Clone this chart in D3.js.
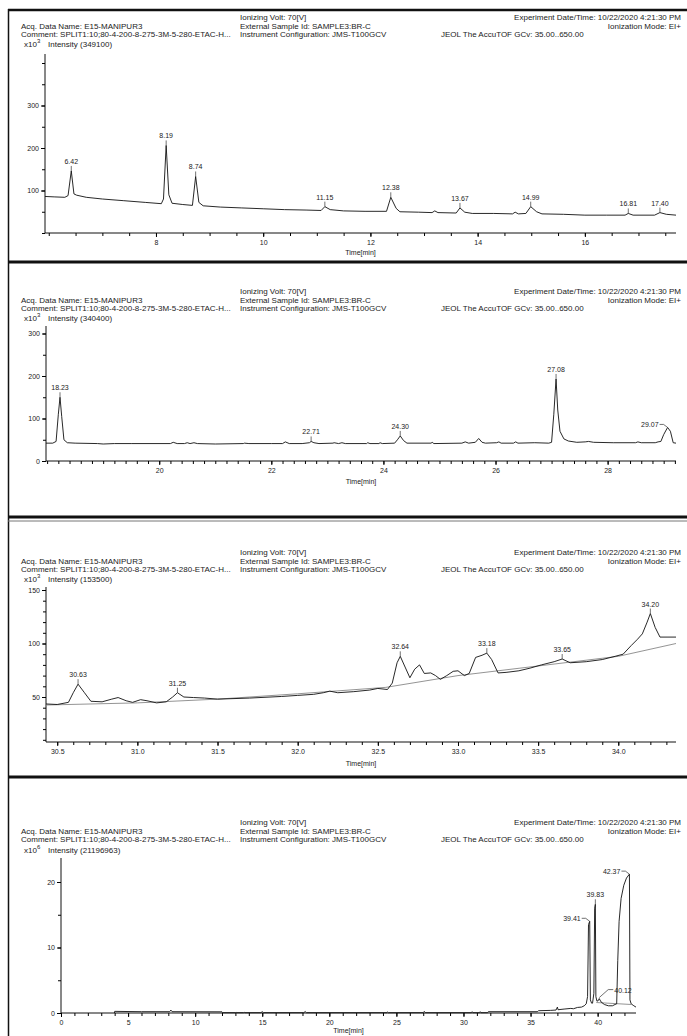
<!DOCTYPE html>
<html>
<head>
<meta charset="utf-8">
<script src="https://cdn.jsdelivr.net/npm/d3@7/dist/d3.min.js"></script>
<style>
  body { margin: 0; background: #fff; }
  svg { display: block; font-family: "Liberation Sans", Arial, sans-serif; }
  .tick text { fill: #222; }
</style>
</head>
<body>
<div id="chart"></div>
<script>
// header texts, identical on the four screenshots
const acqName = "Acq. Data Name: E15-MANIPUR3";
const comment = "Comment: SPLIT1:10;80-4-200-8-275-3M-5-280-ETAC-H...";
const ionVolt = "Ionizing Volt: 70[V]";
const sampleId = "External Sample Id: SAMPLE3:BR-C";
const instrument = "Instrument Configuration: JMS-T100GCV";
const expDate = "Experiment Date/Time: 10/22/2020 4:21:30 PM";
const ionMode = "Ionization Mode: EI+";
const jeol = "JEOL The AccuTOF GCv: 35.00..650.00";
const xTitle = "Time[min]";

// panel 1 : 6 - 17.7 min, intensity x10^3
const p1Intensity = "349100";
const p1Trace = [[5.93,86],[6.10,85],[6.30,84],[6.36,88],[6.42,146],[6.47,92],[6.52,89],[6.70,84],[7.00,80],[7.40,76],[7.80,72],[8.10,69],[8.14,80],[8.19,206],[8.24,90],[8.30,70],[8.50,67],[8.68,65],[8.74,133],[8.80,72],[8.88,64],[9.20,61],[9.60,59],[10.00,57],[10.40,55],[10.80,54],[11.08,53],[11.15,62],[11.25,55],[11.50,52],[11.90,51],[12.30,51],[12.38,84],[12.48,58],[12.55,50],[12.90,49],[13.15,48],[13.20,52],[13.26,48],[13.60,47],[13.67,59],[13.76,49],[13.90,46],[14.30,46],[14.65,45],[14.70,49],[14.76,45],[14.90,46],[14.99,62],[15.10,50],[15.20,45],[15.60,44],[16.00,42],[16.40,42],[16.75,42],[16.81,46],[16.90,42],[17.30,42],[17.40,48],[17.52,44],[17.70,42]];
const p1Peaks = [6.42, 8.19, 8.74, 11.15, 12.38, 13.67, 14.99, 16.81, 17.40];
const p1XTicks = [8, 10, 12, 14, 16];
const p1YTicks = [100, 200, 300];

// panel 2 : 18 - 29.2 min, intensity x10^3
const p2Intensity = "340400";
const p2Trace = [[17.98,42],[18.10,42],[18.16,46],[18.20,110],[18.23,150],[18.26,105],[18.30,50],[18.36,43],[18.50,42],[18.90,41],[19.00,40],[19.20,41],[19.50,41],[19.80,41],[20.20,41],[20.25,44],[20.32,41],[20.45,41],[20.50,43],[20.55,41],[20.62,43],[20.68,41],[21.00,40],[21.50,41],[21.52,42],[21.60,41],[22.00,41],[22.20,41],[22.25,45],[22.32,41],[22.55,41],[22.68,43],[22.71,46],[22.76,43],[22.85,41],[23.10,42],[23.12,43],[23.20,41],[23.26,43],[23.32,41],[23.70,41],[23.72,43],[23.76,41],[23.92,41],[23.94,43],[23.98,41],[24.20,42],[24.25,50],[24.30,59],[24.36,48],[24.42,42],[24.85,42],[24.87,44],[24.90,41],[25.40,42],[25.46,45],[25.52,42],[25.64,44],[25.70,53],[25.76,44],[25.82,42],[26.02,43],[26.06,45],[26.10,42],[26.32,42],[26.36,45],[26.40,42],[26.70,43],[26.95,42],[27.00,44],[27.04,110],[27.08,193],[27.11,120],[27.15,70],[27.22,52],[27.30,47],[27.45,44],[27.60,45],[27.66,46],[27.75,44],[28.10,43],[28.50,43],[28.54,45],[28.60,43],[28.85,43],[28.90,45],[28.95,46],[29.00,62],[29.07,79],[29.12,70],[29.17,43],[29.22,42]];
const p2Peaks = [18.23, 22.71, 24.30, 27.08, 29.07];
const p2XTicks = [20, 22, 24, 26, 28];
const p2YTicks = [0, 100, 200, 300];

// panel 3 : 30.4 - 34.3 min, intensity x10^3
const p3Intensity = "153500";
const p3Trace = [[30.43,43.5],[30.50,43],[30.57,45],[30.60,54],[30.63,62],[30.67,54],[30.71,46],[30.78,45.5],[30.84,48],[30.88,49.5],[30.93,46.5],[30.97,45],[31.02,47.5],[31.06,46.5],[31.12,44.5],[31.18,45.5],[31.22,50],[31.25,54],[31.29,50],[31.35,49.5],[31.42,49],[31.50,48],[31.70,49],[31.90,50.5],[32.00,51.5],[32.10,52.5],[32.16,54],[32.20,55.5],[32.25,54],[32.35,55],[32.45,56.5],[32.50,58],[32.56,57],[32.59,63],[32.62,82],[32.64,88],[32.67,78],[32.70,68],[32.73,76],[32.76,80],[32.79,72],[32.83,72.5],[32.86,70],[32.89,66.5],[32.93,70],[32.97,74],[33.00,74.5],[33.04,70],[33.07,72],[33.11,87],[33.15,89],[33.18,91],[33.21,85],[33.25,72.5],[33.30,73],[33.38,74.5],[33.45,77],[33.52,80],[33.60,83],[33.65,85.5],[33.70,82],[33.80,83],[33.90,85],[33.98,88],[34.03,90],[34.08,98],[34.12,104],[34.15,109],[34.18,120],[34.20,128],[34.23,115],[34.26,106],[34.31,106],[34.36,106]];
const p3Base = [[30.43,42.5],[31.0,44.5],[31.5,48],[32.0,53],[32.55,59],[33.0,70],[33.5,79],[34.0,88],[34.36,100]];
const p3Peaks = [30.63, 31.25, 32.64, 33.18, 33.65, 34.20];
const p3XTicks = [30.5, 31.0, 31.5, 32.0, 32.5, 33.0, 33.5, 34.0];
const p3YTicks = [50, 100, 150];

// panel 4 : whole run 0 - 42.9 min, intensity x10^6
const p4Intensity = "21196963";
const p4Trace = [[3.98,0],[4.00,0.25],[6.0,0.2],[8.10,0.2],[8.19,0.45],[8.28,0.2],[12.0,0.18],[12.05,0.05],[13.0,0.05],[13.05,0.12],[13.1,0.05],[13.6,0.05],[13.65,0.12],[13.7,0.05],[14.9,0.05],[15.0,0.2],[15.1,0.05],[18.1,0.05],[18.2,0.22],[18.3,0.05],[24.3,0.05],[24.35,0.15],[24.4,0.05],[27.0,0.05],[27.08,0.25],[27.15,0.05],[30.6,0.05],[30.65,0.2],[30.7,0.05],[31.2,0.05],[31.25,0.2],[31.3,0.05],[31.8,0.05],[31.85,0.2],[35.5,0.2],[35.6,0.35],[36.5,0.4],[36.9,0.45],[37.0,0.9],[37.05,0.5],[37.5,0.6],[38.0,0.7],[38.2,0.65],[38.5,0.85],[38.8,0.9],[39.0,1.1],[39.15,1.4],[39.25,2.5],[39.32,13.5],[39.41,14.0],[39.46,2.0],[39.55,1.5],[39.62,1.5],[39.72,3],[39.78,16.0],[39.83,16.6],[39.87,2.5],[39.95,1.8],[40.05,1.9],[40.12,2.2],[40.25,1.7],[40.5,1.3],[40.8,1.1],[41.1,1.1],[41.3,1.3],[41.42,1.4],[41.5,8],[41.6,14],[41.75,17.5],[41.95,19.5],[42.15,20.6],[42.37,21.2],[42.41,2.0],[42.5,1.4],[42.7,1.1],[42.86,0.9]];
const p4Base = [[39.9,1.6],[42.5,1.3]];
const p4Peaks = [39.41, 39.83, 40.12, 42.37];
const p4XTicks = [0, 5, 10, 15, 20, 25, 30, 35, 40];
const p4YTicks = [0, 10, 20];

const W = 687, H = 1036;
let svg = d3.select("#chart").append("svg")
    .attr("width", W).attr("height", H);

// frame lines of the stacked screenshots
svg.append("line").attr("x1", 8.5).attr("x2", 8.5).attr("y1", 9).attr("y2", H)
    .attr("stroke", "#111").attr("stroke-width", 1.5);
[[10, 2.5, "#111"], [262, 3, "#111"], [517, 3, "#111"], [521, 1, "#777"], [777, 3, "#111"]].forEach(function(b){
    svg.append("line").attr("x1", 8).attr("x2", W).attr("y1", b[0]).attr("y2", b[0])
        .attr("stroke", b[2]).attr("stroke-width", b[1]);
});

// label placement that is not "centred above the peak"
let sideLabels = {"29.07": "left", "39.41": "left", "42.37": "left", "40.12": "right"};

function drawPanel(p) {
    let g = svg.append("g");

    // header
    let hdr = [
        [acqName, 21, p.rows[1], "start"], [comment, 21, p.rows[2], "start"],
        [ionVolt, 240, p.rows[0], "start"], [sampleId, 240, p.rows[1], "start"], [instrument, 240, p.rows[2], "start"],
        [expDate, 681, p.rows[0], "end"], [ionMode, 681, p.rows[1], "end"], [jeol, 441, p.rows[2], "start"]
    ];
    hdr.forEach(function(h){
        g.append("text").attr("x", h[1]).attr("y", h[2]).attr("text-anchor", h[3])
            .style("font-size", "8px").style("fill", "#222").text(h[0]);
    });
    let xl = g.append("text").attr("x", 24).attr("y", p.rows[3]).style("font-size", "8px").style("fill", "#222");
    xl.append("tspan").text("x10");
    xl.append("tspan").attr("dy", -4).style("font-size", "6px").text(p.exp);
    g.append("text").attr("x", 48).attr("y", p.rows[3]).style("font-size", "8px").style("fill", "#222")
        .text("Intensity (" + p.intensity + ")");

    let x = d3.scaleLinear().domain(p.xDomain).range(p.xRange);
    let y = d3.scaleLinear().domain(p.yAnchor).range(p.yPix);
    let yBot = p.axisY;

    // axis lines
    g.append("line").attr("x1", p.xRange[0]).attr("x2", p.xRange[0]).attr("y1", p.axisTop).attr("y2", yBot)
        .attr("stroke", "#111").attr("stroke-width", 1);
    g.append("line").attr("x1", p.xRange[0]).attr("x2", p.xRange[1]).attr("y1", yBot).attr("y2", yBot)
        .attr("stroke", "#111").attr("stroke-width", 1);

    // x ticks: minor then labelled
    let xMinor = d3.range(Math.ceil(p.xDomain[0] / p.xMinor) * p.xMinor, p.xDomain[1], p.xMinor);
    g.append("g").attr("transform", "translate(0," + yBot + ")")
        .call(d3.axisBottom(x).tickValues(xMinor).tickSize(3).tickFormat(""))
        .call(function(a){ a.select(".domain").remove(); });
    g.append("g").attr("transform", "translate(0," + yBot + ")")
        .call(d3.axisBottom(x).tickValues(p.xTicks).tickSize(4).tickPadding(3).tickFormat(p.xFmt))
        .call(function(a){ a.select(".domain").remove(); })
        .selectAll("text").style("font-size", "7px");
    g.append("text").attr("x", (p.xRange[0] + p.xRange[1]) / 2).attr("y", p.titleY)
        .attr("text-anchor", "middle").style("font-size", "7px").style("fill", "#222").text(xTitle);

    // y ticks
    let yLo = y.invert(yBot), yHi = y.invert(p.axisTop);
    let yMinor = d3.range(Math.ceil(yLo / p.yMinor) * p.yMinor, yHi, p.yMinor);
    g.append("g").attr("transform", "translate(" + p.xRange[0] + ",0)")
        .call(d3.axisLeft(y).tickValues(yMinor).tickSize(3).tickFormat(""))
        .call(function(a){ a.select(".domain").remove(); });
    g.append("g").attr("transform", "translate(" + p.xRange[0] + ",0)")
        .call(d3.axisLeft(y).tickValues(p.yTicks).tickSize(4).tickPadding(2).tickFormat(d3.format("d")))
        .call(function(a){ a.select(".domain").remove(); })
        .selectAll("text").style("font-size", "7px");

    // gray integration baseline
    let line = d3.line().x(function(d){ return x(d[0]); }).y(function(d){ return y(d[1]); });
    if (p.base) {
        g.append("path").attr("d", line(p.base)).attr("fill", "none")
            .attr("stroke", "#888").attr("stroke-width", 0.9);
    }

    // chromatogram trace
    g.append("path").attr("d", line(p.trace)).attr("fill", "none")
        .attr("stroke", "#111").attr("stroke-width", 0.9).attr("stroke-linejoin", "round");

    // peak labels
    p.peaks.forEach(function(t){
        let pt = p.trace.find(function(d){ return Math.abs(d[0] - t) < 1e-6; });
        let px = x(pt[0]), py = y(pt[1]);
        let lbl = t.toFixed(2);
        let side = sideLabels[lbl];
        if (side == "left") {
            g.append("path").attr("d", "M" + (px - 8) + "," + (py - 3) + "L" + (px - 4) + "," + (py - 3) + "L" + px + "," + py)
                .attr("fill", "none").attr("stroke", "#333").attr("stroke-width", 0.7);
            g.append("text").attr("x", px - 9).attr("y", py).attr("text-anchor", "end")
                .style("font-size", "7px").style("fill", "#222").text(lbl);
        } else if (side == "right") {
            g.append("path").attr("d", "M" + px + "," + (py - 1) + "L" + (px + 9) + "," + (py - 9) + "L" + (px + 14) + "," + (py - 9))
                .attr("fill", "none").attr("stroke", "#333").attr("stroke-width", 0.7);
            g.append("text").attr("x", px + 15).attr("y", py - 6)
                .style("font-size", "7px").style("fill", "#222").text(lbl);
        } else {
            g.append("line").attr("x1", px).attr("x2", px).attr("y1", py).attr("y2", py - 5)
                .attr("stroke", "#333").attr("stroke-width", 0.7);
            g.append("text").attr("x", px).attr("y", py - 7).attr("text-anchor", "middle")
                .style("font-size", "7px").style("fill", "#222").text(lbl);
        }
    });
}

let intFmt = d3.format("d");
drawPanel({rows: [20, 29, 37, 47], exp: "3", intensity: p1Intensity,
    xDomain: [5.93, 17.70], xRange: [45, 676], xTicks: p1XTicks, xMinor: 0.5, xFmt: intFmt,
    yAnchor: [0, 300], yPix: [233, 105.5], axisTop: 54, axisY: 233, yTicks: p1YTicks, yMinor: 50,
    titleY: 255, trace: p1Trace, peaks: p1Peaks});
drawPanel({rows: [294, 303, 311, 321], exp: "3", intensity: p2Intensity,
    xDomain: [17.98, 29.22], xRange: [46, 676], xTicks: p2XTicks, xMinor: 0.2, xFmt: intFmt,
    yAnchor: [0, 300], yPix: [461, 333.5], axisTop: 326, axisY: 461, yTicks: p2YTicks, yMinor: 50,
    titleY: 484, trace: p2Trace, peaks: p2Peaks});
drawPanel({rows: [555, 564, 572, 582], exp: "3", intensity: p3Intensity,
    xDomain: [30.43, 34.36], xRange: [46, 676], xTicks: p3XTicks, xMinor: 0.1, xFmt: d3.format(".1f"),
    yAnchor: [50, 150], yPix: [697, 590], axisTop: 587, axisY: 742, yTicks: p3YTicks, yMinor: 10,
    titleY: 766, trace: p3Trace, base: p3Base, peaks: p3Peaks});
drawPanel({rows: [825, 834, 842, 853], exp: "6", intensity: p4Intensity,
    xDomain: [0, 42.86], xRange: [61, 636], xTicks: p4XTicks, xMinor: 1, xFmt: intFmt,
    yAnchor: [0, 20], yPix: [1013, 882], axisTop: 858, axisY: 1013, yTicks: p4YTicks, yMinor: 5,
    titleY: 1033, trace: p4Trace, base: p4Base, peaks: p4Peaks});
</script>
</body>
</html>
